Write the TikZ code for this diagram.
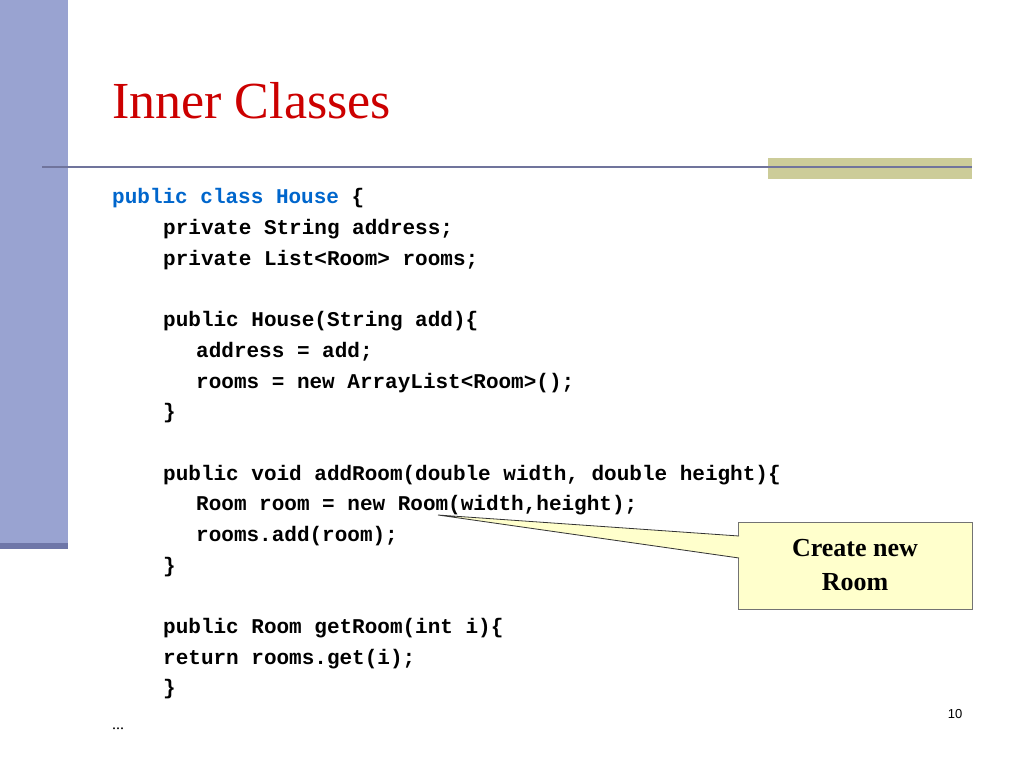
\documentclass[tikz,border=0pt]{standalone}
\usepackage{fontspec}
\setmainfont{Liberation Serif}
\setmonofont{Liberation Mono}
\setsansfont{Liberation Sans}
\usetikzlibrary{positioning}
\definecolor{barblue}{HTML}{99A3D1}
\definecolor{barshadow}{HTML}{6E76A8}
\definecolor{rulecol}{HTML}{70749C}
\definecolor{olive}{HTML}{CCCC99}
\definecolor{titlered}{HTML}{CC0000}
\definecolor{kwblue}{HTML}{0066CC}
\definecolor{notefill}{HTML}{FFFFCC}
\tikzset{
  codeline/.style={anchor=base west,inner sep=0pt,font=\ttfamily\bfseries\fontsize{21}{21}\selectfont},
  notebox/.style={draw=black!55,fill=notefill,line width=0.8pt,minimum width=234pt,minimum height=87pt,
    align=center,font=\bfseries\fontsize{26}{34}\selectfont}
}
\begin{document}
\begin{tikzpicture}[x=1pt,y=-1pt]
    \useasboundingbox (0,0) rectangle (1024,768);
    % background shapes
    \fill[barshadow] (0,543) rectangle (68,549);
    \fill[barblue] (0,0) rectangle (68,543);
    \fill[olive] (768,158) rectangle (972,179);
    \draw[rulecol,line width=2pt] (42,166.5) -- (972,166.5);

    \node[anchor=base west,inner sep=0pt,text=titlered,font=\fontsize{52}{52}\selectfont] (title) at (112,118) {Inner Classes};

    % code
    \node[codeline] (l1) at (112,203) {\textcolor{kwblue}{public class House} \{};
    \node[codeline] (l2) at (163,234) {private String address;};
    \node[codeline] (l3) at (163,265) {private List<Room> rooms;};
    \node[codeline] (l4) at (163,326) {public House(String  add)\{};
    \node[codeline] (l5) at (196,357) {address = add;};
    \node[codeline] (l6) at (196,388) {rooms = new ArrayList<Room>();};
    \node[codeline] (l7) at (163,418) {\}};
    \node[codeline] (l8) at (163,480) {public void addRoom(double width, double height)\{};
    \node[codeline] (l9) at (196,510) {Room room = new Room(width,height);};
    \node[codeline] (l10) at (196,541) {rooms.add(room);};
    \node[codeline] (l11) at (163,572) {\}};
    \node[codeline] (l12) at (163,633) {public Room getRoom(int i)\{};
    \node[codeline] (l13) at (163,664) {return rooms.get(i);};
    \node[codeline] (l14) at (163,694) {\}};
    \node[anchor=base west,inner sep=0pt,font=\fontsize{16}{16}\selectfont] (dots) at (112,729) {...};

    % callout
    \node[notebox] (note) at (855,565.5) {Create new\\Room};
    \coordinate (tip) at (438,515);
    \fill[notefill] (tip) -- (739,536) -- (739,558) -- cycle;
    \draw[black!80,line width=0.8pt] (739,536) -- (tip) -- (739,558);

    \node[anchor=base,inner sep=0pt,font=\sffamily\fontsize{13}{13}\selectfont] (pageno) at (955,718) {10};
\end{tikzpicture}
\end{document}
